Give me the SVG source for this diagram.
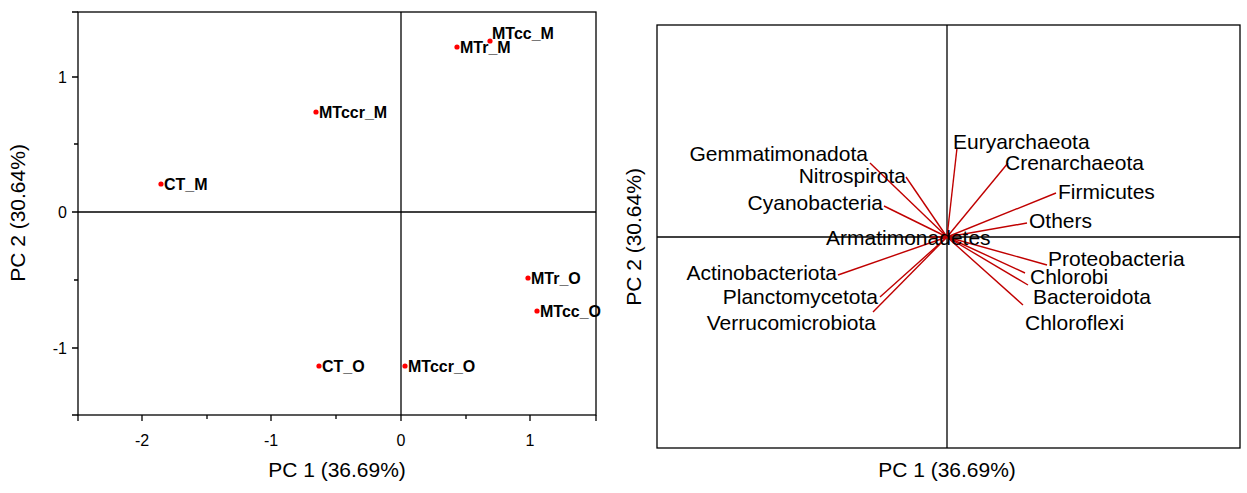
<svg xmlns="http://www.w3.org/2000/svg" width="1247" height="493" viewBox="0 0 1247 493">
<style>
.ax{stroke:#000;stroke-width:1.3;fill:none}
.t{font-family:"Liberation Sans",Arial,sans-serif;fill:#000}
.tk{font-size:16px}
.ti{font-size:21px}
.pl{font-size:16px;font-weight:bold}
.bl{font-size:21px}
.v{stroke:#c00000;stroke-width:1.4}
.pt{fill:#ff0000}
</style>
<rect width="1247" height="493" fill="#fff"/>
<g id="left-plot">
<rect class="ax" x="78" y="12" width="518" height="403"/>
<line class="ax" x1="78" y1="212" x2="596" y2="212"/>
<line class="ax" x1="401" y1="12" x2="401" y2="415"/>
<g class="ax">
<path d="M78,415v6M142,415v6M207,415v4M271,415v6M336,415v4M401,415v6M466,415v4M530,415v6M596,415v6M78,77h-6M78,144h-4M78,212h-6M78,280h-4M78,348h-6M78,415h-6M78,12h-6"/>
</g>
<g class="t tk" text-anchor="middle">
<text x="142" y="446">-2</text><text x="271" y="446">-1</text><text x="401" y="446">0</text><text x="530" y="446">1</text>
</g>
<g class="t tk" text-anchor="end">
<text x="67" y="83">1</text><text x="67" y="218">0</text><text x="67" y="354">-1</text>
</g>
<text class="t ti" x="337" y="477" text-anchor="middle">PC 1 (36.69%)</text>
<text class="t ti" transform="translate(25,213) rotate(-90)" text-anchor="middle">PC 2 (30.64%)</text>
<g id="pts">
<circle class="pt" cx="490" cy="41" r="2.6"/><text class="t pl" x="492" y="39">MTcc_M</text>
<circle class="pt" cx="457" cy="47" r="2.6"/><text class="t pl" x="460" y="53">MTr_M</text>
<circle class="pt" cx="316" cy="112" r="2.6"/><text class="t pl" x="319" y="118">MTccr_M</text>
<circle class="pt" cx="161" cy="184" r="2.6"/><text class="t pl" x="164" y="190">CT_M</text>
<circle class="pt" cx="528" cy="278" r="2.6"/><text class="t pl" x="531" y="284">MTr_O</text>
<circle class="pt" cx="537" cy="311" r="2.6"/><text class="t pl" x="540" y="317">MTcc_O</text>
<circle class="pt" cx="319" cy="366" r="2.6"/><text class="t pl" x="322" y="372">CT_O</text>
<circle class="pt" cx="405" cy="366" r="2.6"/><text class="t pl" x="408" y="372">MTccr_O</text>
</g>
</g>
<g id="right-plot">
<rect class="ax" x="657" y="25" width="583" height="423"/>
<line class="ax" x1="657" y1="237" x2="1240" y2="237"/>
<line class="ax" x1="947" y1="25" x2="947" y2="448"/>
<g id="connectors">
<line class="v" x1="947" y1="237" x2="870" y2="163"/>
<line class="v" x1="947" y1="237" x2="906" y2="177"/>
<line class="v" x1="947" y1="237" x2="884" y2="206"/>
<line class="v" x1="947" y1="237" x2="957" y2="148"/>
<line class="v" x1="947" y1="237" x2="1008" y2="163"/>
<line class="v" x1="947" y1="237" x2="1056" y2="193"/>
<line class="v" x1="947" y1="237" x2="1027" y2="223"/>
<line class="v" x1="947" y1="237" x2="1047" y2="265"/>
<line class="v" x1="947" y1="237" x2="1025" y2="273"/>
<line class="v" x1="947" y1="237" x2="1028" y2="285"/>
<line class="v" x1="947" y1="237" x2="1023" y2="305"/>
<line class="v" x1="947" y1="237" x2="838" y2="275"/>
<line class="v" x1="947" y1="237" x2="880" y2="297"/>
<line class="v" x1="947" y1="237" x2="873" y2="312"/>
<line class="v" x1="947" y1="237" x2="930" y2="237"/>
</g>
<g class="t bl" text-anchor="end">
<text x="868" y="161">Gemmatimonadota</text>
<text x="906" y="183">Nitrospirota</text>
<text x="883" y="210">Cyanobacteria</text>
<text x="837" y="280">Actinobacteriota</text>
<text x="878" y="304">Planctomycetota</text>
<text x="876" y="330">Verrucomicrobiota</text>
</g>
<g class="t bl">
<text x="953" y="149">Euryarchaeota</text>
<text x="1005" y="170">Crenarchaeota</text>
<text x="1058" y="199">Firmicutes</text>
<text x="1029" y="228">Others</text>
<text x="826" y="245">Armatimonadetes</text>
<text x="1048" y="266">Proteobacteria</text>
<text x="1030" y="284">Chlorobi</text>
<text x="1033" y="304">Bacteroidota</text>
<text x="1025" y="330">Chloroflexi</text>
</g>
<text class="t ti" x="947" y="477" text-anchor="middle">PC 1 (36.69%)</text>
<text class="t ti" transform="translate(641,237) rotate(-90)" text-anchor="middle">PC 2 (30.64%)</text>
</g>
</svg>
